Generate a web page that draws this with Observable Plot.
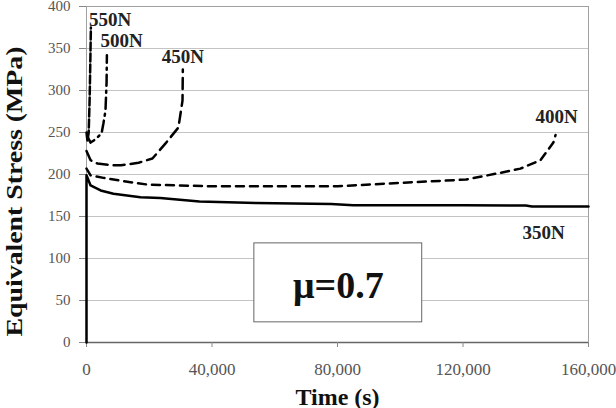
<!DOCTYPE html>
<html>
<head>
<meta charset="utf-8">
<script src="https://cdn.jsdelivr.net/npm/d3@7"></script>
<script src="https://cdn.jsdelivr.net/npm/@observablehq/plot@0.6"></script>
<style>
  html, body { margin: 0; padding: 0; background: #fff; }
  svg { font-family: "Liberation Serif", "Times New Roman", serif; }
</style>
</head>
<body>
<div id="chart"></div>
<script>
// Time (s) and equivalent stress (MPa) for each load
const t350 = [0, 0, 1300, 4500, 8600, 17200, 23500, 36000, 54000, 78000, 85000, 120000, 140000, 142000, 160000];
const s350 = [0, 199, 187, 181, 177, 173, 172, 168, 166, 165, 163.5, 163.5, 163, 162, 162];

const t400 = [0, 1300, 5400, 11800, 19400, 40000, 80000, 100000, 121000, 131900, 138300, 144700, 148800, 149500];
const s400 = [207, 199, 196, 192, 188, 186, 186, 190, 194, 202, 207, 217, 238, 247];

const t450 = [0, 1300, 3500, 8600, 11000, 16600, 21000, 25200, 29300, 30600, 30700];
const s450 = [228, 217, 213, 211, 211, 214, 219, 237, 256, 288, 325];

const t500 = [300, 1300, 2900, 4800, 5400, 6050, 6400, 6500];
const s500 = [245, 238, 242, 249, 261, 276, 310, 342];

const t550 = [0, 300, 700, 1000, 1200, 1400];
const s550 = [250, 240, 250, 290, 330, 375];

const seriesNames = ["350N", "400N", "450N", "500N", "550N"];
const seriesT = [t350, t400, t450, t500, t550];
const seriesS = [s350, s400, s450, s500, s550];
const dashes = ["none", "8,6", "11,6", "11,5,2,5", "8,3"];

// label anchors (data units)
const labelNames = ["550N", "500N", "450N", "400N", "350N"];
const labelT = [800, 4460, 24000, 143100, 138950];
const labelS = [384.5, 359.5, 340.5, 269, 131];

const xTicks = [0, 40000, 80000, 120000, 160000];
const yTicks = [0, 50, 100, 150, 200, 250, 300, 350, 400];
const gridTicks = [50, 100, 150, 200, 250, 300, 350];

const boxText = "μ=0.7";
const boxX = [53500, 107000];
const boxY = [24, 118];

const lineMarks = seriesNames.map((name, i) => {
  const data = seriesT[i].map((t, j) => ({t, s: seriesS[i][j]}));
  return Plot.line(data, {
    x: "t", y: "s",
    stroke: "black", strokeWidth: 2.5,
    strokeDasharray: dashes[i],
    strokeLinejoin: "round"
  });
});

const labels = labelNames.map((n, i) => ({n, t: labelT[i], s: labelS[i]}));

const chart = Plot.plot({
  width: 616,
  height: 408,
  marginLeft: 86,
  marginRight: 28,
  marginTop: 6,
  marginBottom: 66,
  style: { fontFamily: "Liberation Serif, Times New Roman, serif", background: "white" },
  x: { domain: [0, 160000], ticks: xTicks, tickFormat: d3.format(","), label: null },
  y: { domain: [0, 400], ticks: yTicks, label: null },
  marks: [
    Plot.gridY(gridTicks, { stroke: "#c4c4c4", strokeOpacity: 1, strokeWidth: 1 }),
    Plot.ruleY([400], { stroke: "#a0a0a0" }),
    Plot.ruleX([160000], { stroke: "#a0a0a0" }),
    Plot.ruleX([0], { stroke: "#a0a0a0" }),
    Plot.ruleY([0], { stroke: "#666", strokeWidth: 1.5 }),
    Plot.axisX({ ticks: xTicks, tickFormat: d3.format(","), tickSize: 5, tickPadding: 15, fontSize: 17, fill: "#555", stroke: "#888", label: null }),
    Plot.axisY({ ticks: yTicks, tickSize: 7, tickPadding: 9, fontSize: 15, fill: "#555", stroke: "#888", label: null }),
    Plot.rect([{x1: boxX[0], x2: boxX[1], y1: boxY[0], y2: boxY[1]}], {
      x1: "x1", x2: "x2", y1: "y1", y2: "y2", fill: "white", stroke: "#666", strokeWidth: 1
    }),
    ...lineMarks,
    Plot.text(labels, { x: "t", y: "s", text: "n", textAnchor: "start", fontSize: 19, fontWeight: "bold", fill: "#222" }),
    Plot.text([boxText], { x: (boxX[0] + boxX[1]) / 2, y: 68, text: d => d, fontSize: 38, fontWeight: "bold", fill: "#111" }),
    Plot.text(["Time (s)"], { frameAnchor: "bottom", dy: 62, text: d => d, fontSize: 24, fontWeight: "bold", fill: "#111" }),
    Plot.text(["Equivalent Stress (MPa)"], { frameAnchor: "left", textAnchor: "middle", lineAnchor: "middle", dx: -72, dy: 17, rotate: -90, text: d => d, fontSize: 24, fontWeight: "bold", fill: "#111" })
  ]
});

document.getElementById("chart").appendChild(chart);

// stretch the y label to the reference length
d3.select(chart).selectAll("text").filter(function () {
  return this.textContent === "Equivalent Stress (MPa)";
}).attr("textLength", 290).attr("lengthAdjust", "spacingAndGlyphs");
</script>
</body>
</html>
